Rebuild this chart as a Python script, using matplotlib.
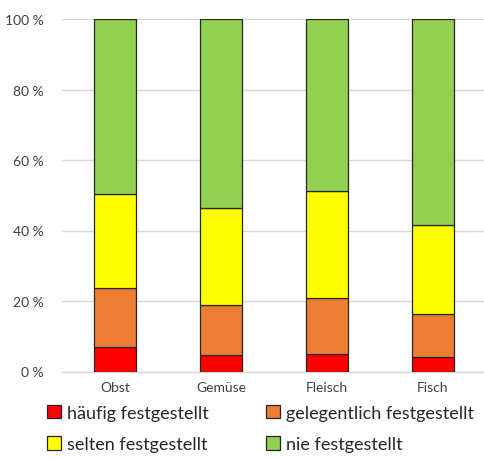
import numpy as np
import matplotlib.pyplot as plt
from matplotlib.patches import Patch

categories = ["Obst", "Gemüse", "Fleisch", "Fisch"]
haeufig = [7.0, 4.6, 4.9, 4.0]
gelegentlich = [16.8, 14.4, 16.0, 12.2]
selten = [26.6, 27.3, 30.3, 25.3]
nie = [49.6, 53.7, 48.8, 58.5]

series = [
    ("häufig festgestellt", haeufig, "#FF0000"),
    ("gelegentlich festgestellt", gelegentlich, "#ED7D31"),
    ("selten festgestellt", selten, "#FFFF00"),
    ("nie festgestellt", nie, "#92D050"),
]

plt.rcParams['font.family'] = ['Lato', 'DejaVu Sans']

fig = plt.figure(figsize=(4.84, 4.6), dpi=100)
ax = fig.add_axes([62 / 484, 87.5 / 460, 424 / 484, 352.5 / 460])

x = np.arange(len(categories))
bottom = np.zeros(len(categories))
handles = {}
for label, vals, color in series:
    ax.bar(x, vals, width=0.4, bottom=bottom, color=color,
           edgecolor="#262626", linewidth=0.9, zorder=3)
    bottom += np.array(vals)
    handles[label] = Patch(facecolor=color, edgecolor="#262626", linewidth=0.9)

ax.set_xlim(-0.5, 3.5)
ax.set_ylim(0, 100)
ax.set_yticks(range(0, 101, 20))
ax.set_yticklabels([f"{v} %" for v in range(0, 101, 20)])
ax.set_xticks(x)
ax.set_xticklabels(categories)
ax.grid(axis="y", color="#d9d9d9", linewidth=1, zorder=0)
for s in ["top", "right", "left"]:
    ax.spines[s].set_visible(False)
ax.spines["bottom"].set_color("#d9d9d9")
ax.spines["bottom"].set_linewidth(1)
ax.tick_params(axis="both", length=0, labelsize=10, colors="#404040")
ax.tick_params(axis="y", pad=13)
ax.tick_params(axis="x", pad=7)

order = ["häufig festgestellt", "selten festgestellt",
         "gelegentlich festgestellt", "nie festgestellt"]
fig.legend([handles[k] for k in order], order, ncol=2,
           loc="upper left", bbox_to_anchor=(47 / 484, 54 / 460),
           borderaxespad=0, borderpad=0,
           frameon=False, fontsize=13, handlelength=0.75, handleheight=0.75,
           handletextpad=0.35, columnspacing=3.2, labelspacing=0.85,
           labelcolor="#262626")

fig.savefig("out.png", dpi=100)
